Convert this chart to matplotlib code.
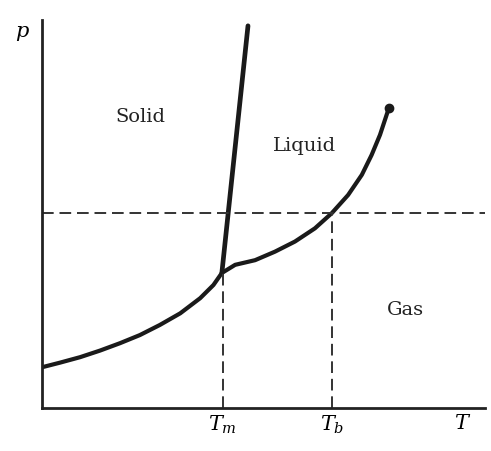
import matplotlib.pyplot as plt
import numpy as np

plt.rcParams['mathtext.fontset'] = 'dejavuserif'

# phase diagram, arbitrary units (T from 0 to 10, p from 0 to 10)
T_m = 4.08
T_b = 6.54
p_dash = 5.03

# solid-gas (sublimation) curve
sub_T = [0.0, 0.41, 0.86, 1.31, 1.76, 2.21, 2.66, 3.12, 3.57, 3.87, 4.06]
sub_p = [1.05, 1.17, 1.31, 1.48, 1.67, 1.88, 2.14, 2.44, 2.83, 3.17, 3.48]

# liquid-gas (vaporization) curve up to the critical point
vap_T = [4.06, 4.36, 4.81, 5.26, 5.71, 6.16, 6.54, 6.91, 7.22, 7.44, 7.63, 7.74, 7.83]
vap_p = [3.48, 3.69, 3.81, 4.03, 4.29, 4.63, 5.02, 5.49, 6.01, 6.52, 7.04, 7.42, 7.73]

# solid-liquid (melting) line
melt_T = [4.06, 4.65]
melt_p = [3.48, 9.85]

regions = ['Solid', 'Liquid', 'Gas']
region_T = [2.23, 5.92, 8.20]
region_p = [7.50, 6.75, 2.53]

fig = plt.figure(figsize=(4.91, 4.51), dpi=100)
ax = fig.add_axes([42 / 491, 43 / 451, 443 / 491, 388 / 451])
ax.set_xlim(0, 10)
ax.set_ylim(0, 10)

for s in ['top', 'right']:
    ax.spines[s].set_visible(False)
for s in ['left', 'bottom']:
    ax.spines[s].set_linewidth(2.0)
    ax.spines[s].set_color('#222222')

ink = '#1a1a1a'
ax.plot(sub_T, sub_p, color=ink, lw=3.0, solid_capstyle='round', solid_joinstyle='round')
ax.plot(vap_T, vap_p, color=ink, lw=3.0, solid_capstyle='round', solid_joinstyle='round')
ax.plot(melt_T, melt_p, color=ink, lw=3.4, solid_capstyle='round')
ax.plot(vap_T[-1], vap_p[-1], 'o', color=ink, ms=6)

dash = dict(color='#333333', lw=1.4, ls=(0, (6, 3)))
ax.plot([0, 10], [p_dash, p_dash], **dash)
ax.plot([T_m, T_m], [0, sub_p[-1]], **dash)
ax.plot([T_b, T_b], [0, p_dash], **dash)

serif = ['DejaVu Serif']
for name, x, y in zip(regions, region_T, region_p):
    ax.text(x, y, name, fontsize=14, family=serif, color='#222222',
            ha='center', va='center')

ax.set_xticks([T_m, T_b])
ax.set_xticklabels([r'$T_m$', r'$T_b$'], fontsize=15)
ax.tick_params(axis='x', length=0, pad=4)
ax.set_yticks([])

ax.text(9.5, -0.38, r'$T$', fontsize=15, ha='center', va='center')
fig.text(22 / 491, 1 - 33 / 451, r'$p$', fontsize=15, ha='center', va='center')

fig.savefig('out.png', dpi=100)
